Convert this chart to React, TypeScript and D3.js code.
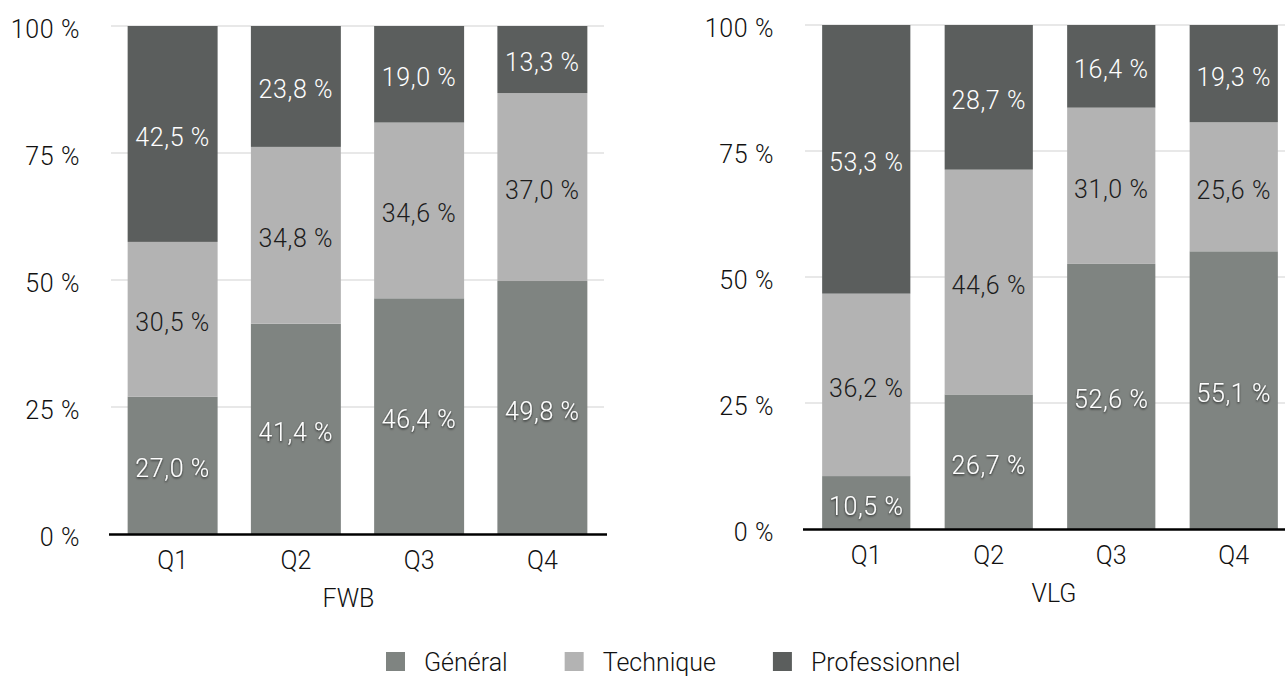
import React, { useEffect, useRef } from 'react';
import * as d3 from 'd3';

const quarters = ['Q1', 'Q2', 'Q3', 'Q4'];
const seriesNames = ['Général', 'Technique', 'Professionnel'];

// FWB
const fwbGeneral = [27.0, 41.4, 46.4, 49.8];
const fwbTechnique = [30.5, 34.8, 34.6, 37.0];
const fwbProfessionnel = [42.5, 23.8, 19.0, 13.3];

// VLG
const vlgGeneral = [10.5, 26.7, 52.6, 55.1];
const vlgTechnique = [36.2, 44.6, 31.0, 25.6];
const vlgProfessionnel = [53.3, 28.7, 16.4, 19.3];

const yTicks = [0, 25, 50, 75, 100];

const colors = ['#7f8481', '#b3b3b3', '#5b5e5d'];
const labelColors = ['#ffffff', '#1c1c1c', '#ffffff'];
const FONT = 'Roboto, "Liberation Sans", sans-serif';

interface Panel {
  title: string;
  series: number[][];
  x0: number;
  x1: number;
  yTop: number;
  yBottom: number;
  titleDx: number;
  inner: number;
}

const App: React.FC = () => {
  const ref = useRef<SVGSVGElement>(null);

  useEffect(() => {
    document.body.style.margin = '0';
    const svg = d3.select(ref.current);
    svg.selectAll('*').remove();

    const defs = svg.append('defs');
    const filter = defs.append('filter').attr('id', 'shadow')
      .attr('x', '-20%').attr('y', '-30%').attr('width', '140%').attr('height', '160%');
    filter.append('feDropShadow')
      .attr('dx', 0).attr('dy', 1.2).attr('stdDeviation', 1)
      .attr('flood-color', '#000').attr('flood-opacity', 0.75);

    const panels: Panel[] = [
      { title: 'FWB', series: [fwbGeneral, fwbTechnique, fwbProfessionnel], x0: 111, x1: 604, yTop: 26, yBottom: 534, titleDx: -9, inner: 0.27 },
      { title: 'VLG', series: [vlgGeneral, vlgTechnique, vlgProfessionnel], x0: 805, x1: 1295, yTop: 25, yBottom: 529, titleDx: 4, inner: 0.28 },
    ];

    panels.forEach(p => {
      const g = svg.append('g');
      const x = d3.scaleBand<string>().domain(quarters).range([p.x0, p.x1])
        .paddingInner(p.inner).paddingOuter(p.inner / 2);
      const y = d3.scaleLinear().domain([0, 100]).range([p.yBottom, p.yTop]);

      // gridlines
      g.selectAll('line.grid')
        .data(yTicks.filter(t => t > 0))
        .enter()
        .append('line')
        .attr('class', 'grid')
        .attr('x1', p.x0).attr('x2', p.x1)
        .attr('y1', d => y(d)).attr('y2', d => y(d))
        .attr('stroke', '#d2d2d2').attr('stroke-width', 1.2);

      // tick labels
      g.selectAll('text.ytick')
        .data(yTicks)
        .enter()
        .append('text')
        .attr('class', 'ytick')
        .attr('x', p.x0 - 31)
        .attr('y', d => y(d) + 11.5)
        .attr('text-anchor', 'end')
        .style('font-family', FONT).style('font-weight', 300).style('font-size', '25px')
        .style('letter-spacing', '0.6px')
        .attr('fill', '#111')
        .text(d => `${d} %`);

      // stacked bars
      const rows = quarters.map((q, i) => {
        const row: any = { q };
        seriesNames.forEach((s, k) => { row[s] = p.series[k][i]; });
        return row;
      });
      const stacked = d3.stack<any>().keys(seriesNames)(rows);

      stacked.forEach((layer, k) => {
        g.selectAll(`rect.s${k}`)
          .data(layer)
          .enter()
          .append('rect')
          .attr('class', `s${k}`)
          .attr('x', d => x(d.data.q)!)
          .attr('width', x.bandwidth())
          .attr('y', d => y(Math.min(d[1], 100)))
          .attr('height', d => y(d[0]) - y(Math.min(d[1], 100)))
          .attr('fill', colors[k]);
      });

      stacked.forEach((layer, k) => {
        g.selectAll(`text.l${k}`)
          .data(layer)
          .enter()
          .append('text')
          .attr('class', `l${k}`)
          .attr('x', d => x(d.data.q)! + x.bandwidth() / 2)
          .attr('y', d => y((d[0] + d[1]) / 2) + 12)
          .attr('text-anchor', 'middle')
          .style('font-family', FONT).style('font-weight', 300).style('font-size', '25px')
          .style('letter-spacing', '0.6px')
          .attr('fill', labelColors[k])
          .attr('filter', k === 0 ? 'url(#shadow)' : null)
          .text(d => `${(d[1] - d[0]).toFixed(1).replace('.', ',')} %`);
      });

      // baseline axis
      g.append('line')
        .attr('x1', p.x0 - 2).attr('x2', p.x1 + 3)
        .attr('y1', y(0) + 0.5).attr('y2', y(0) + 0.5)
        .attr('stroke', '#000').attr('stroke-width', 2.6);

      // category labels
      g.selectAll('text.xtick')
        .data(quarters)
        .enter()
        .append('text')
        .attr('class', 'xtick')
        .attr('x', d => x(d)! + x.bandwidth() / 2)
        .attr('y', y(0) + 35)
        .attr('text-anchor', 'middle')
        .style('font-family', FONT).style('font-weight', 300).style('font-size', '25px')
        .attr('fill', '#111')
        .text(d => d);

      g.append('text')
        .attr('x', (p.x0 + p.x1) / 2 + p.titleDx)
        .attr('y', y(0) + 73)
        .attr('text-anchor', 'middle')
        .style('font-family', FONT).style('font-weight', 300).style('font-size', '25px')
        .attr('fill', '#111')
        .text(p.title);
    });

    // legend
    const legend = svg.append('g').attr('transform', 'translate(386, 652)');
    let cx = 0;
    seriesNames.forEach((name, k) => {
      legend.append('rect')
        .attr('x', cx).attr('y', 0)
        .attr('width', 19).attr('height', 19)
        .attr('fill', colors[k]);
      const t = legend.append('text')
        .attr('x', cx + 38).attr('y', 19)
        .style('font-family', FONT).style('font-weight', 300).style('font-size', '25px')
        .attr('fill', '#111')
        .text(name);
      const w = (t.node() as SVGTextElement).getComputedTextLength();
      cx += 38 + w + 57;
    });
  }, []);

  return (
    <svg ref={ref} width={1285} height={678} style={{ display: 'block', background: '#fff' }} />
  );
};

export default App;
